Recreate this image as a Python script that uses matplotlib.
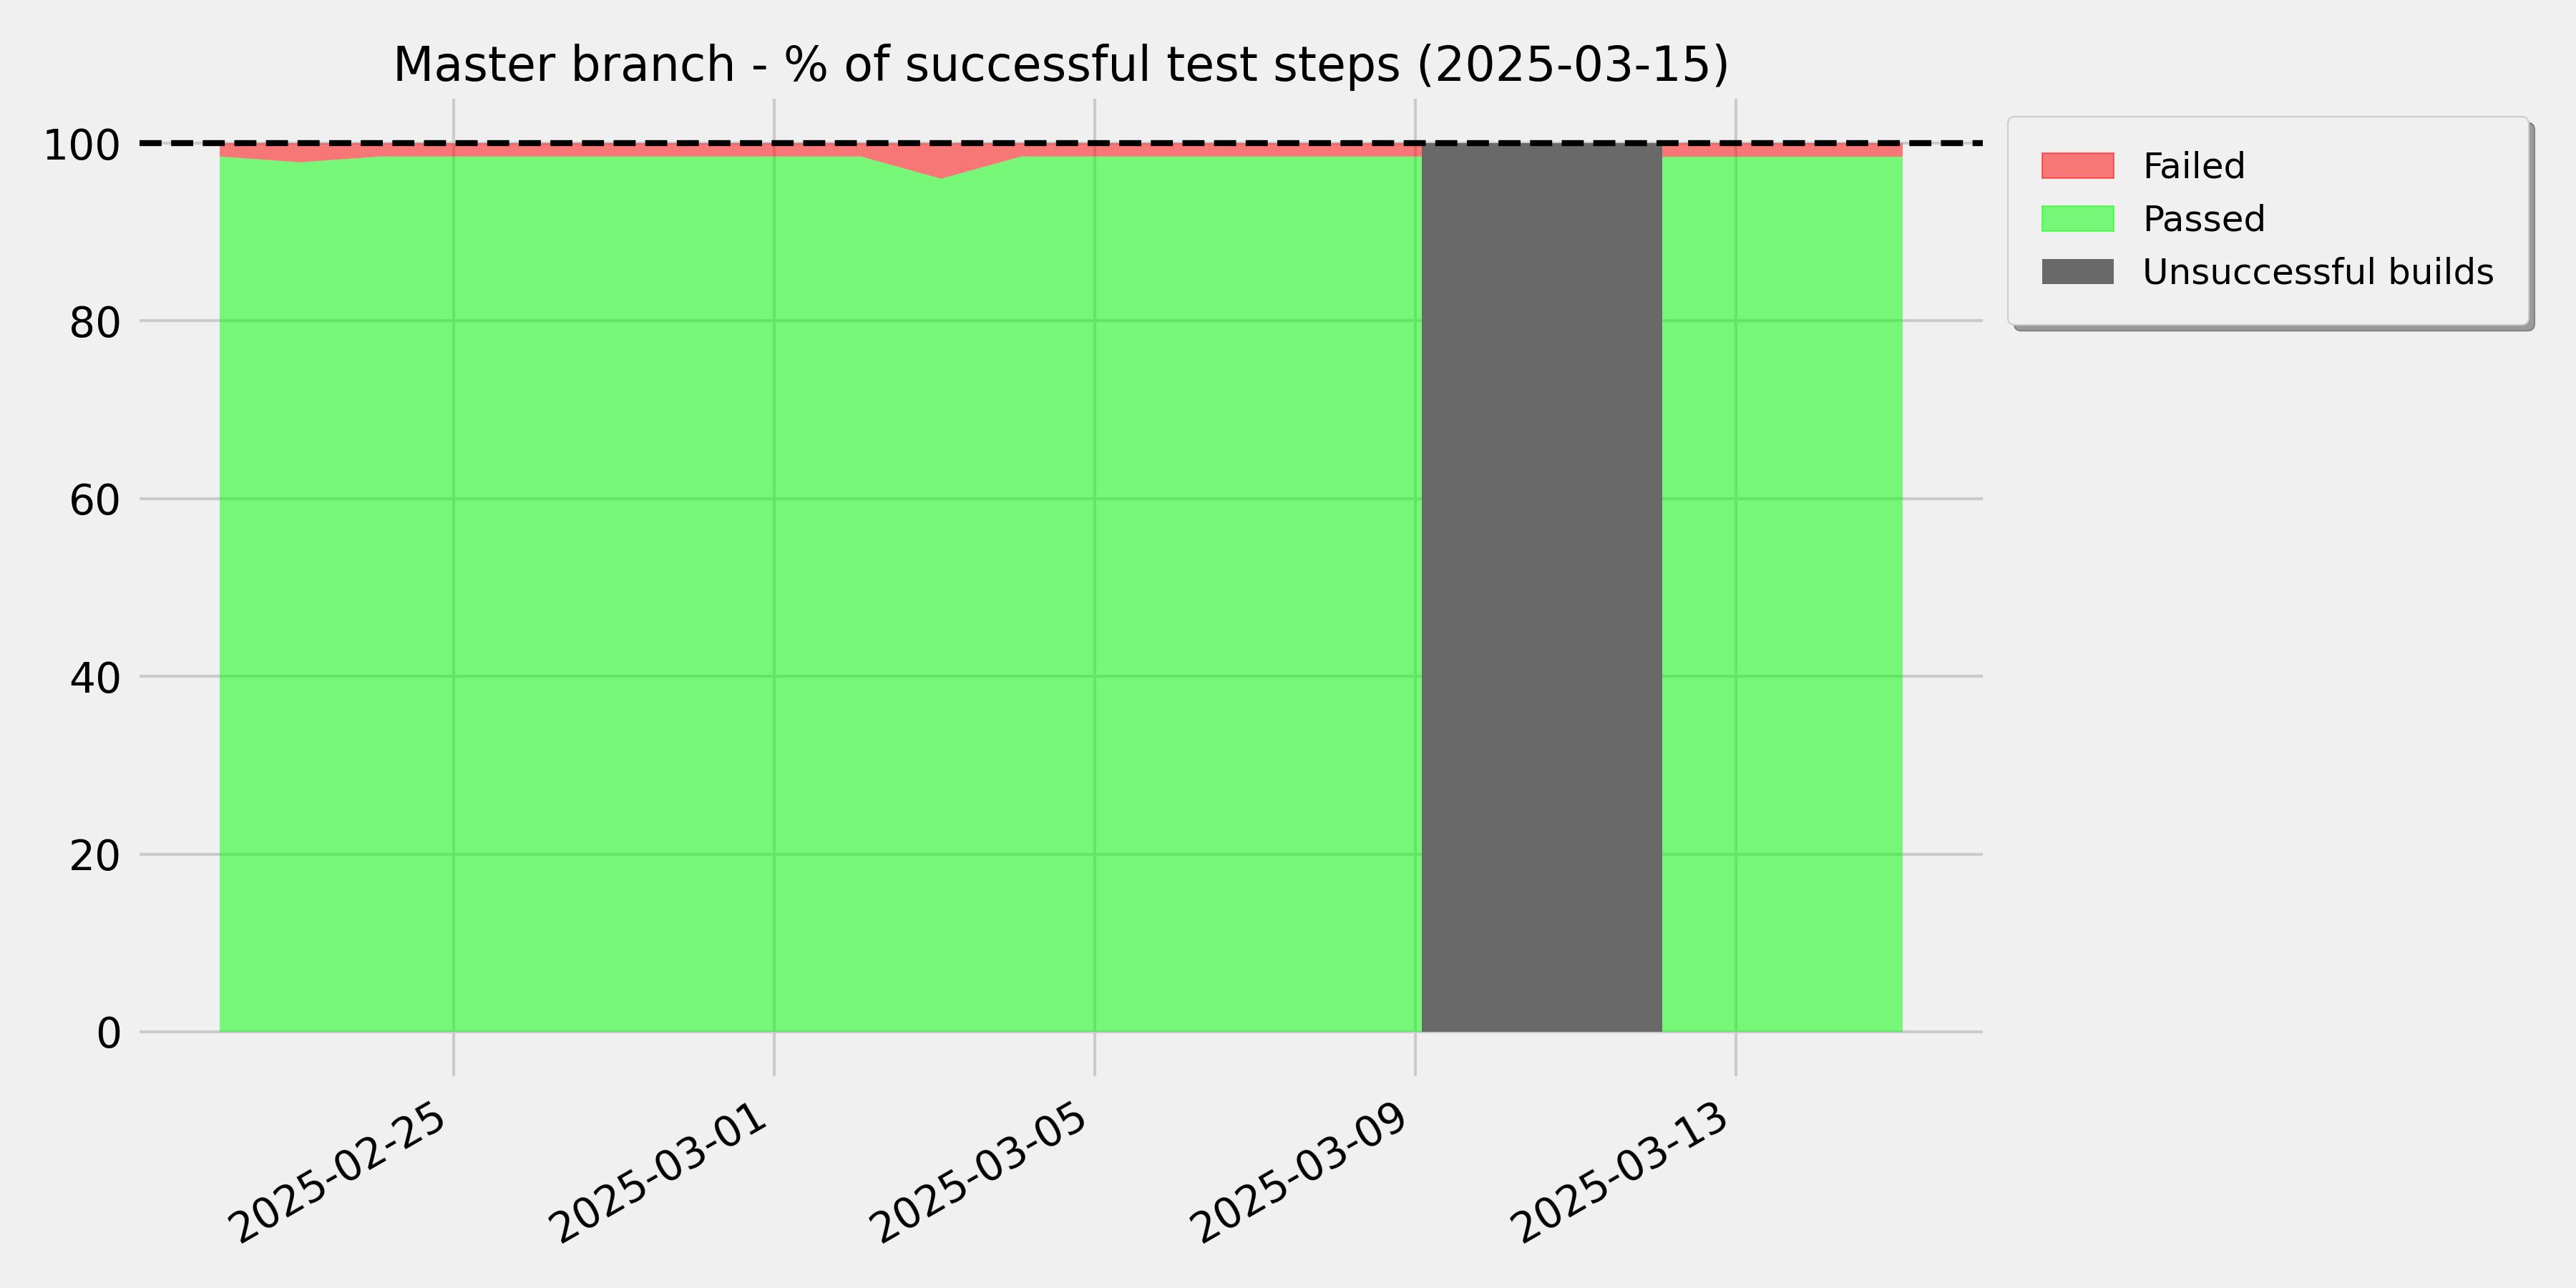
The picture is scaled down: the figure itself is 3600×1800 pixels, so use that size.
import numpy as np
import pandas as pd
import matplotlib
matplotlib.use("Agg")
import matplotlib.pyplot as plt
import matplotlib.patches as mpatches
import matplotlib.dates as mdates

plt.style.use("fivethirtyeight")

# ---- data ----
dates = pd.date_range("2025-02-22 02:00", "2025-03-15 02:00", freq="D")
passed = [98.5, 97.85, 98.5, 98.5, 98.5, 98.5, 98.5, 98.5, 98.5, 96.0, 98.5,
          98.5, 98.5, 98.5, 98.5, 98.5, np.nan, np.nan, 98.5, 98.5, 98.5, 98.5]
failed = [1.5, 2.15, 1.5, 1.5, 1.5, 1.5, 1.5, 1.5, 1.5, 4.0, 1.5,
          1.5, 1.5, 1.5, 1.5, 1.5, np.nan, np.nan, 1.5, 1.5, 1.5, 1.5]
build_ok = [True] * 16 + [False, False] + [True] * 4
report_date = "2025-03-15"

passed = np.array(passed, dtype=float)
failed = np.array(failed, dtype=float)
build_ok = np.array(build_ok)

fig = plt.figure(figsize=(12, 6), dpi=300)
fig.patch.set_facecolor("#f0f0f0")
ax = fig.add_axes([0.0542, 1 - 1504 / 1800, (2771 - 195) / 3600, 1366 / 1800])

ax.stackplot(dates, passed, failed, colors=["lime", "red"], alpha=0.5,
             linewidth=0.5)

# unsuccessful builds: span from last good build to next good build
bad = ~build_ok
span = bad.copy()
span[:-1] |= bad[1:]
span[1:] |= bad[:-1]
ax.fill_between(dates, 0, 100, where=span, color="dimgray", linewidth=0,
                interpolate=False)

ax.axhline(100, color="black", linestyle="--", linewidth=2)

one_day = pd.Timedelta(days=1)
ax.set_xlim(dates[0] - one_day, dates[-1] + one_day)
ax.set_ylim(-5, 105)

ax.set_title(f"Master branch - % of successful test steps ({report_date})",
             fontsize=16, pad=6)
ax.set_yticks([0, 20, 40, 60, 80, 100])
ax.tick_params(axis="both", labelsize=14, length=0, pad=6)
ax.grid(True, color="#cbcbcb", linewidth=1.0)
for s in ax.spines.values():
    s.set_visible(False)

ax.xaxis.set_major_locator(mdates.DayLocator(bymonthday=[1, 5, 9, 13, 25]))
ax.xaxis.set_major_formatter(mdates.DateFormatter("%Y-%m-%d"))
for lbl in ax.get_xticklabels():
    lbl.set_rotation(30)
    lbl.set_ha("right")

handles = [
    mpatches.Patch(facecolor="red", edgecolor="red", alpha=0.5, linewidth=0.5, label="Failed"),
    mpatches.Patch(facecolor="lime", edgecolor="lime", alpha=0.5, linewidth=0.5, label="Passed"),
    mpatches.Patch(facecolor="dimgray", edgecolor="none", label="Unsuccessful builds"),
]
ax.legend(handles=handles, loc="upper left", bbox_to_anchor=(1.004, 1),
          fontsize=12, shadow=True, fancybox=True, borderpad=0.95,
          labelspacing=0.52)

fig.savefig("out.png", dpi=300, facecolor="#f0f0f0")
